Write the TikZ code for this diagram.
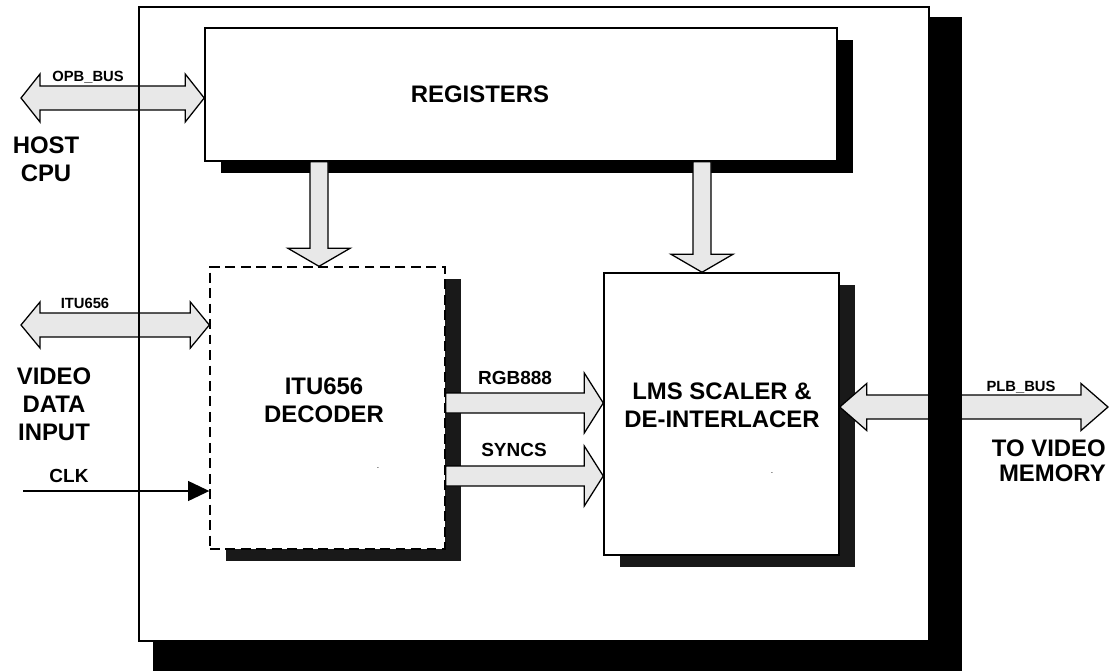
\documentclass[tikz,border=0pt]{standalone}
\usepackage{fontspec}
\setmainfont{Liberation Sans}
\usetikzlibrary{arrows.meta,calc,shadows}

% fat bus arrows (one way right, one way down, both ways)
\newcommand{\busright}[2]{%
  \draw[bus] ($(#1)+(0,-10)$) -- ($(#2)+(-19,-10)$) -- ($(#2)+(-19,-30)$)
    -- (#2) -- ($(#2)+(-19,30)$) -- ($(#2)+(-19,10)$) -- ($(#1)+(0,10)$) -- cycle;}
\newcommand{\busdown}[2]{%
  \draw[bus] ($(#1)+(-9,0)$) -- ($(#2)+(-9,-18)$) -- ($(#2)+(-31,-18)$)
    -- (#2) -- ($(#2)+(31,-18)$) -- ($(#2)+(9,-18)$) -- ($(#1)+(9,0)$) -- cycle;}
\newcommand{\busboth}[5]{%
  \draw[bus] (#1) -- ($(#1)+(#3,-#5)$) -- ($(#1)+(#3,-#4)$) -- ($(#2)+(-#3,-#4)$)
    -- ($(#2)+(-#3,-#5)$) -- (#2) -- ($(#2)+(-#3,#5)$) -- ($(#2)+(-#3,#4)$)
    -- ($(#1)+(#3,#4)$) -- ($(#1)+(#3,#5)$) -- cycle;}

\begin{document}
\begin{tikzpicture}[
  x=0.025cm, y=-0.025cm,
  box/.style={draw, fill=white, line width=1pt, inner sep=0pt},
  shadowed/.style={drop shadow={shadow xshift=0.4cm, shadow yshift=-0.3cm,
    fill=#1, opacity=1}},
  bus/.style={draw, fill=gray!18, line width=0.9pt, line join=miter},
  lbl/.style={font=\bfseries\fontsize{17}{20}\selectfont, align=center, inner sep=0pt},
  midlbl/.style={font=\bfseries\fontsize{13.5}{16}\selectfont, inner sep=0pt, anchor=base},
  buslbl/.style={font=\bfseries\fontsize{10.5}{12}\selectfont, inner sep=0pt, anchor=base},
  clkline/.style={-{Triangle[length=15pt, width=14pt]}, line width=1.2pt}
]
\useasboundingbox (0,0) rectangle (1110,670);

\node[box, shadowed=black, minimum width=15.8cm, minimum height=3.325cm] (reg) at (521,94.5) {};
\node[box, shadowed=black!90, dash pattern=on 7pt off 4pt, line width=0.9pt,
  minimum width=5.875cm, minimum height=7.05cm] (dec) at (327.5,408) {};
\node[box, shadowed=black!90, minimum width=5.875cm, minimum height=7.05cm] (lms) at (721.5,414) {};

\coordinate (opbL) at (21,98);
\coordinate (ituL) at (21,325);
\coordinate (plbR) at (1108,407);
\coordinate (clkL) at (23,491);
\coordinate (rgbrow) at (0,403);
\coordinate (syncrow) at (0,476);
\coordinate (downA) at (319,0);
\coordinate (downB) at (702,0);

\busboth{opbL}{reg.west |- opbL}{19}{12}{24}
\busboth{ituL}{dec.west |- ituL}{19}{12}{23}
\busboth{lms.east |- plbR}{plbR}{27}{12}{23.5}
\busright{dec.east |- rgbrow}{lms.west |- rgbrow}
\busright{dec.east |- syncrow}{lms.west |- syncrow}
\busdown{reg.south -| downA}{dec.north -| downA}
\busdown{reg.south -| downB}{lms.north -| downB}
\draw[clkline] (clkL) -- (dec.west |- clkL);

% chip outline and its shadow
\node[draw, line width=1pt, inner sep=0pt, minimum width=19.75cm, minimum height=15.85cm] (chip) at (534,324) {};
\fill ($(chip.north east)+(0,11)$) -- ($(chip.north east)+(32,11)$) -- ($(chip.south east)+(32,29)$)
  -- ($(chip.south west)+(15,29)$) -- ($(chip.south west)+(15,0)$) -- (chip.south east) -- cycle;

\node[lbl] (regtxt) at (480,94) {REGISTERS};
\node[lbl] (dectxt) at (324,400) {ITU656\\DECODER};
\node[lbl] (lmstxt) at (722,405) {LMS SCALER \&\\DE-INTERLACER};
\node[lbl] (host) at (46,159.5) {HOST\\CPU};
\node[lbl] (video) at (54,404.5) {VIDEO\\DATA\\INPUT};
\node[lbl, align=right, anchor=east, font=\bfseries\fontsize{17}{18}\selectfont] (tomem) at (1106,461) {TO VIDEO\\MEMORY};

\node[buslbl] (opbtxt) at (88,82) {OPB\_BUS};
\node[buslbl] (itutxt) at (85,308) {ITU656};
\node[buslbl] (plbtxt) at (1021,391) {PLB\_BUS};
\node[midlbl] (clktxt) at (69,482) {CLK};
\node[midlbl] (rgbtxt) at (515,384) {RGB888};
\node[midlbl] (synctxt) at (514,456) {SYNCS};

\node[font=\fontsize{6}{6}\selectfont, inner sep=0pt] (dotA) at (378,468) {.};
\node[font=\fontsize{6}{6}\selectfont, inner sep=0pt] (dotB) at (772,473) {.};

\end{tikzpicture}
\end{document}
